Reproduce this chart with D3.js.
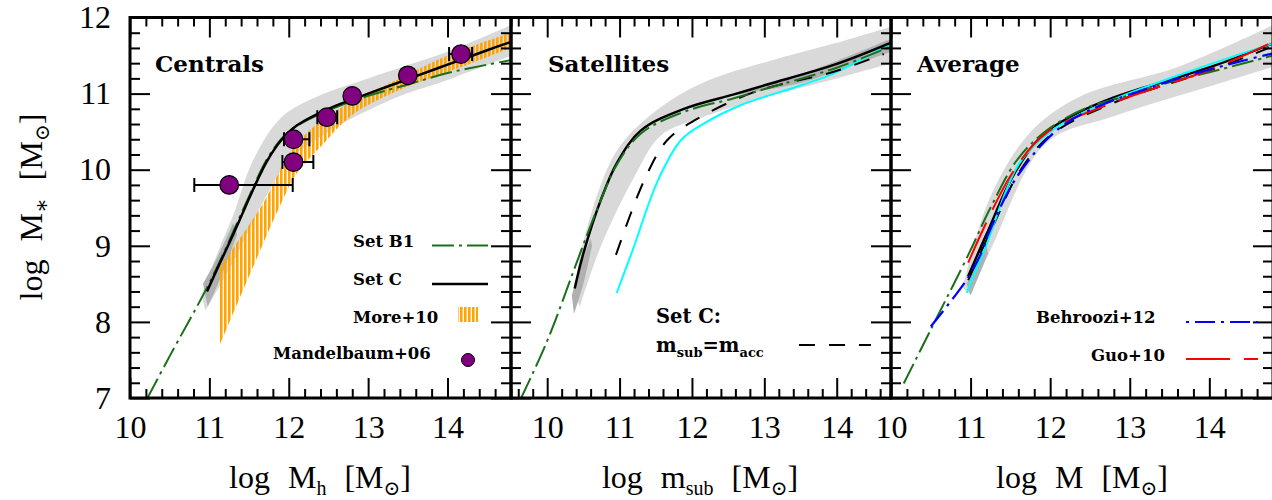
<!DOCTYPE html>
<html>
<head>
<meta charset="utf-8">
<script src="https://cdn.jsdelivr.net/npm/d3@7"></script>
<style>
body { margin: 0; background: #fff; }
svg { display: block; }
.tick text { font-family: "Liberation Serif", "DejaVu Serif", serif; font-size: 32px; fill: #000; }
.tick line { stroke-width: 2; }
.lab { font-family: "DejaVu Serif", serif; font-weight: bold; fill: #000; }
.ttl { font-family: "Liberation Serif", "DejaVu Serif", serif; font-size: 32px; fill: #000; word-spacing: 10px; }
</style>
</head>
<body>
<svg id="chart" width="1272" height="500"></svg>
<script>
// ---- data (log masses) ----

// Centrals panel
var cenC_x  = [10.97, 11.1, 11.3, 11.5, 11.6, 11.73, 11.9, 12.1, 12.5, 13.0, 13.5, 14.0, 14.5, 14.8];
var cenC_y  = [8.40, 8.70, 9.15, 9.62, 9.85, 10.12, 10.38, 10.58, 10.80, 11.00, 11.19, 11.38, 11.57, 11.68];
var cenB1_x = [10.22, 10.5, 10.97, 11.2, 11.5, 11.75, 12.0, 12.5, 13.0, 13.5, 14.0, 14.5, 14.8];
var cenB1_y = [7.0, 7.55, 8.45, 8.95, 9.65, 10.18, 10.5, 10.78, 10.97, 11.12, 11.27, 11.38, 11.44];
var cenBandHi_x = [10.9, 11.1, 11.3, 11.55, 11.9, 12.4, 13.0, 13.4, 14.0, 14.8];
var cenBandHi_y = [8.35, 8.9, 9.4, 10.12, 10.68, 10.98, 11.2, 11.34, 11.55, 11.9];
var cenBandLo_x = [10.95, 11.2, 11.45, 11.7, 12.0, 12.5, 13.0, 13.4, 14.0, 14.8];
var cenBandLo_y = [8.15, 8.6, 9.1, 9.62, 10.12, 10.5, 10.78, 10.97, 11.18, 11.5];
var cenDarkHi_x = [10.92, 11.1, 11.3];
var cenDarkHi_y = [8.5, 8.85, 9.3];
var cenDarkLo_x = [10.98, 11.15, 11.35];
var cenDarkLo_y = [8.2, 8.6, 9.15];
var moreLo_x = [11.12, 11.5, 11.9, 12.1, 12.4, 12.8, 13.4, 14.0, 14.8];
var moreLo_y = [7.67, 8.6, 9.55, 9.95, 10.3, 10.72, 11.05, 11.28, 11.6];
var moreHi_x = [11.12, 11.3, 11.7, 12.0, 12.3, 12.8, 13.4, 14.0, 14.8];
var moreHi_y = [8.71, 8.97, 9.6, 10.2, 10.55, 10.9, 11.2, 11.5, 11.8];
var mand_x  = [11.25, 12.06, 12.06, 12.48, 12.80, 13.50, 14.17];
var mand_y  = [9.80, 10.10, 10.40, 10.69, 10.97, 11.24, 11.52];
var mand_lo = [10.81, 11.92, 11.94, 12.36, 12.74, 13.44, 14.02];
var mand_hi = [12.05, 12.31, 12.26, 12.61, 12.86, 13.56, 14.31];

// Satellites panel
var satB1_x = [9.64, 10.0, 10.47, 10.74, 10.97, 11.3, 11.89, 12.58, 13.04, 13.97, 14.75];
var satB1_y = [7.0, 7.75, 8.94, 9.6, 10.08, 10.48, 10.76, 10.94, 11.07, 11.33, 11.62];
var satC_x  = [10.38, 10.5, 10.74, 10.97, 11.3, 11.89, 12.58, 13.04, 13.97, 14.75];
var satC_y  = [8.44, 8.9, 9.6, 10.1, 10.52, 10.8, 10.99, 11.12, 11.38, 11.67];
var satCyan_x = [10.96, 11.18, 11.53, 11.85, 12.17, 12.68, 13.51, 13.97, 14.75];
var satCyan_y = [8.38, 8.94, 9.86, 10.39, 10.61, 10.85, 11.11, 11.27, 11.66];
var satAcc_x = [10.95, 11.34, 11.66, 12.04, 12.86, 13.97, 14.65];
var satAcc_y = [8.88, 9.86, 10.39, 10.65, 11.02, 11.29, 11.52];
var satBandHi_x = [10.38, 10.47, 10.93, 11.43, 12.12, 13.04, 13.97, 14.75];
var satBandHi_y = [8.4, 8.94, 10.2, 10.72, 11.13, 11.42, 11.66, 11.88];
var satBandLo_x = [10.45, 10.74, 11.2, 11.57, 12.12, 13.0, 14.0, 14.75];
var satBandLo_y = [8.2, 8.99, 9.9, 10.45, 10.68, 10.95, 11.2, 11.4];
var satDarkHi_x = [12.6, 13.5, 14.0, 14.75];
var satDarkHi_y = [11.0, 11.26, 11.43, 11.72];
var satDarkLo_x = [12.6, 13.5, 14.0, 14.75];
var satDarkLo_y = [10.98, 11.14, 11.3, 11.55];
var satDark2Hi_x = [10.34, 10.45, 10.6];
var satDark2Hi_y = [8.35, 8.7, 9.1];
var satDark2Lo_x = [10.37, 10.5, 10.62];
var satDark2Lo_y = [8.1, 8.5, 9.0];

// Average panel
var avgB1_x = [10.16, 10.5, 10.98, 11.25, 11.6, 12.0, 12.5, 13.0, 13.5, 14.0, 14.8];
var avgB1_y = [7.19, 7.9, 8.9, 9.5, 10.15, 10.55, 10.83, 10.98, 11.15, 11.28, 11.5];
var avgBeh_x = [10.5, 10.96, 11.15, 11.23, 11.61, 12.2, 13.43, 14.8];
var avgBeh_y = [7.94, 8.57, 8.94, 9.17, 9.95, 10.61, 11.14, 11.53];
var avgCyan_x = [10.95, 11.19, 11.61, 12.03, 12.79, 14.05, 14.8];
var avgCyan_y = [8.38, 8.99, 10.08, 10.52, 10.92, 11.4, 11.66];
var avgGuo_x = [10.97, 11.52, 11.95, 12.79, 14.05, 14.8];
var avgGuo_y = [8.78, 9.95, 10.48, 10.88, 11.33, 11.68];
var avgC_x = [10.97, 11.2, 11.55, 11.9, 12.3, 12.8, 13.5, 14.1, 14.8];
var avgC_y = [8.6, 9.15, 9.95, 10.45, 10.72, 10.95, 11.18, 11.38, 11.66];
var avgAcc_x = [10.97, 11.3, 11.6, 12.0, 12.8, 14.0, 14.75];
var avgAcc_y = [8.55, 9.3, 9.95, 10.45, 10.88, 11.3, 11.6];
var avgBandHi_x = [10.9, 11.23, 11.74, 12.37, 13.63, 14.8];
var avgBandHi_y = [8.45, 9.6, 10.48, 10.96, 11.36, 11.9];
var avgBandLo_x = [11.0, 11.27, 11.95, 12.79, 14.05, 14.8];
var avgBandLo_y = [8.35, 8.99, 10.35, 10.7, 11.11, 11.35];
var avgDarkHi_x = [10.95, 11.2];
var avgDarkHi_y = [8.5, 9.0];
var avgDarkLo_x = [11.0, 11.22];
var avgDarkLo_y = [8.35, 8.9];

// tick labels
var yTicks = [7, 8, 9, 10, 11, 12];
var xTicks = [10, 11, 12, 13, 14];
var panelNames = ["Centrals", "Satellites", "Average"];

// ---- layout ----
var svg = d3.select("#chart");
var top_ = 17.5, bottom = 398;
var y = d3.scaleLinear().domain([7, 12]).range([bottom, top_]);

var panels = [
    {x0: 130, x1: 511, dom: [10, 14.8]},
    {x0: 511, x1: 891, dom: [9.5, 14.75]},
    {x0: 891, x1: 1273, dom: [10, 14.8]}
];
panels.forEach(function (p) {
    p.x = d3.scaleLinear().domain(p.dom).range([p.x0, p.x1]);
});

var LIGHT = "#d9d9d9", DARK = "#b0b0b0", GREEN = "#1a701a";

function zip(a, b) { return a.map(function (v, i) { return [v, b[i]]; }); }

function lineFor(xs) {
    return d3.line()
        .x(function (d) { return xs(d[0]); })
        .y(function (d) { return y(d[1]); })
        .curve(d3.curveCatmullRom.alpha(0.5));
}
function bandPath(xs, hi, lo) {
    var l = lineFor(xs);
    var a = l(hi);
    var b = l(lo.slice().reverse());
    return a + "L" + b.slice(1) + "Z";
}

var defs = svg.append("defs");
var pat = defs.append("pattern")
    .attr("id", "hatch")
    .attr("patternUnits", "userSpaceOnUse")
    .attr("width", 4).attr("height", 10);
pat.append("rect").attr("x", 0).attr("y", 0).attr("width", 2.6).attr("height", 10).attr("fill", "#ffa500");

panels.forEach(function (p, i) {
    defs.append("clipPath").attr("id", "clip" + i)
        .append("rect")
        .attr("x", p.x0).attr("y", top_)
        .attr("width", p.x1 - p.x0).attr("height", bottom - top_);
});

function plotLayer(i) {
    return svg.append("g").attr("clip-path", "url(#clip" + i + ")");
}

function drawBand(g, xs, hx, hy, lx, ly, color) {
    g.append("path").attr("d", bandPath(xs, zip(hx, hy), zip(lx, ly))).attr("fill", color);
}
function drawLine(g, xs, xa, ya, color, width, dash) {
    g.append("path")
        .attr("d", lineFor(xs)(zip(xa, ya)))
        .attr("fill", "none")
        .attr("stroke", color)
        .attr("stroke-width", width)
        .attr("stroke-dasharray", dash || null);
}

var DASH_B1 = "22,5,3,5", DASH_ACC = "16,14", DASH_BEH = "20,6,3,6", DASH_GUO = "44,14";

// ---- Centrals ----
var p0 = panels[0], g0 = plotLayer(0);
drawBand(g0, p0.x, cenBandHi_x, cenBandHi_y, cenBandLo_x, cenBandLo_y, LIGHT);
drawBand(g0, p0.x, cenDarkHi_x, cenDarkHi_y, cenDarkLo_x, cenDarkLo_y, DARK);
drawBand(g0, p0.x, moreHi_x, moreHi_y, moreLo_x, moreLo_y, "url(#hatch)");
drawLine(g0, p0.x, cenB1_x, cenB1_y, GREEN, 2, DASH_B1);
drawLine(g0, p0.x, cenC_x, cenC_y, "#000", 2.5);

var eb = g0.selectAll(".eb").data(mand_x.map(function (v, i) {
    return {x: v, y: mand_y[i], lo: mand_lo[i], hi: mand_hi[i]};
})).enter().append("g");
eb.append("line")
    .attr("x1", function (d) { return p0.x(d.lo); })
    .attr("x2", function (d) { return p0.x(d.hi); })
    .attr("y1", function (d) { return y(d.y); })
    .attr("y2", function (d) { return y(d.y); })
    .attr("stroke", "#000").attr("stroke-width", 2);
["lo", "hi"].forEach(function (k) {
    eb.append("line")
        .attr("x1", function (d) { return p0.x(d[k]); })
        .attr("x2", function (d) { return p0.x(d[k]); })
        .attr("y1", function (d) { return y(d.y) - 7; })
        .attr("y2", function (d) { return y(d.y) + 7; })
        .attr("stroke", "#000").attr("stroke-width", 2);
});
eb.append("circle")
    .attr("cx", function (d) { return p0.x(d.x); })
    .attr("cy", function (d) { return y(d.y); })
    .attr("r", 9.3)
    .attr("fill", "#800080").attr("stroke", "#000").attr("stroke-width", 1.2);

// ---- Satellites ----
var p1 = panels[1], g1 = plotLayer(1);
drawBand(g1, p1.x, satBandHi_x, satBandHi_y, satBandLo_x, satBandLo_y, LIGHT);
drawBand(g1, p1.x, satDarkHi_x, satDarkHi_y, satDarkLo_x, satDarkLo_y, DARK);
drawBand(g1, p1.x, satDark2Hi_x, satDark2Hi_y, satDark2Lo_x, satDark2Lo_y, DARK);
drawLine(g1, p1.x, satCyan_x, satCyan_y, "#00ffff", 2);
drawLine(g1, p1.x, satAcc_x, satAcc_y, "#000", 2, DASH_ACC);
drawLine(g1, p1.x, satC_x, satC_y, "#000", 2.5);
drawLine(g1, p1.x, satB1_x, satB1_y, GREEN, 2, DASH_B1);

// ---- Average ----
var p2 = panels[2], g2 = plotLayer(2);
drawBand(g2, p2.x, avgBandHi_x, avgBandHi_y, avgBandLo_x, avgBandLo_y, LIGHT);
drawBand(g2, p2.x, avgDarkHi_x, avgDarkHi_y, avgDarkLo_x, avgDarkLo_y, DARK);
drawLine(g2, p2.x, avgC_x, avgC_y, "#000", 2.5);
drawLine(g2, p2.x, avgAcc_x, avgAcc_y, "#000", 2, DASH_ACC);
drawLine(g2, p2.x, avgCyan_x, avgCyan_y, "#00ffff", 2);
drawLine(g2, p2.x, avgB1_x, avgB1_y, GREEN, 2, DASH_B1);
drawLine(g2, p2.x, avgGuo_x, avgGuo_y, "#ff0000", 2, DASH_GUO);
drawLine(g2, p2.x, avgBeh_x, avgBeh_y, "#0000ff", 2.2, DASH_BEH);

// ---- frames and ticks ----
function minorOf(dom) {
    return d3.range(Math.ceil(dom[0] * 5 - 1e-6), Math.floor(dom[1] * 5 + 1e-6) + 1)
        .map(function (k) { return k / 5; })
        .filter(function (v) { return Math.abs(v - Math.round(v)) > 1e-6; });
}
var yMinor = minorOf([7, 12]);

function clean(g) { g.select(".domain").remove(); return g; }

panels.forEach(function (p, i) {
    var xMaj = xTicks.filter(function (v) { return v >= p.dom[0] && v <= p.dom[1]; });
    var xMin = minorOf(p.dom);

    clean(svg.append("g").attr("transform", "translate(0," + bottom + ")")
        .call(d3.axisBottom(p.x).tickValues(xMaj).tickSize(-20).tickPadding(17).tickFormat(d3.format("d"))));
    clean(svg.append("g").attr("transform", "translate(0," + bottom + ")")
        .call(d3.axisBottom(p.x).tickValues(xMin).tickSize(-9).tickFormat("")));
    clean(svg.append("g").attr("transform", "translate(0," + top_ + ")")
        .call(d3.axisTop(p.x).tickValues(xMaj).tickSize(-20).tickFormat("")));
    clean(svg.append("g").attr("transform", "translate(0," + top_ + ")")
        .call(d3.axisTop(p.x).tickValues(xMin).tickSize(-9).tickFormat("")));

    var left = d3.axisLeft(y).tickValues(yTicks).tickSize(-20).tickPadding(19);
    if (i > 0) left.tickFormat("");
    else left.tickFormat(d3.format("d"));
    clean(svg.append("g").attr("transform", "translate(" + p.x0 + ",0)").call(left));
    clean(svg.append("g").attr("transform", "translate(" + p.x0 + ",0)")
        .call(d3.axisLeft(y).tickValues(yMinor).tickSize(-10).tickFormat("")));
    clean(svg.append("g").attr("transform", "translate(" + p.x1 + ",0)")
        .call(d3.axisRight(y).tickValues(yTicks).tickSize(-20).tickFormat("")));
    clean(svg.append("g").attr("transform", "translate(" + p.x1 + ",0)")
        .call(d3.axisRight(y).tickValues(yMinor).tickSize(-10).tickFormat("")));

    svg.append("rect")
        .attr("x", p.x0).attr("y", top_)
        .attr("width", p.x1 - p.x0).attr("height", bottom - top_)
        .attr("fill", "none").attr("stroke", "#000").attr("stroke-width", 3);

    svg.append("text").attr("class", "lab")
        .attr("x", p.x0 + [25, 37, 26][i]).attr("y", 72)
        .attr("font-size", 23)
        .text(panelNames[i]);
});

// ---- legends ----
function legText(x, yb, txt, size) {
    return svg.append("text").attr("class", "lab").attr("font-size", size || 16.5)
        .attr("x", x).attr("y", yb).text(txt);
}
function legLine(x1, x2, yy, color, width, dash) {
    svg.append("line").attr("x1", x1).attr("x2", x2).attr("y1", yy).attr("y2", yy)
        .attr("stroke", color).attr("stroke-width", width).attr("stroke-dasharray", dash || null);
}
legText(353, 247, "Set B1");
legLine(432, 488, 245.5, GREEN, 2, DASH_B1);
legText(353, 285, "Set C");
legLine(432, 488, 284, "#000", 2.5);
legText(353, 323, "More+10");
svg.append("rect").attr("x", 458).attr("y", 307).attr("width", 20).attr("height", 15).attr("fill", "url(#hatch)");
legText(273, 359, "Mandelbaum+06");
svg.append("circle").attr("cx", 468).attr("cy", 360).attr("r", 6.5)
    .attr("fill", "#800080").attr("stroke", "#000").attr("stroke-width", 1);

legText(656, 323, "Set C:", 19.5);
var t2 = legText(656, 352, "m", 19.5);
t2.append("tspan").attr("dy", 5).attr("font-size", 13).text("sub");
t2.append("tspan").attr("dy", -5).text("=m");
t2.append("tspan").attr("dy", 5).attr("font-size", 13).text("acc");
legLine(799, 871, 345, "#000", 2, DASH_ACC);

legText(1036, 323, "Behroozi+12");
legLine(1186, 1258, 322, "#0000ff", 2.2, "3,6,20,6");
legText(1091, 361, "Guo+10");
legLine(1186, 1258, 359, "#ff0000", 2, DASH_GUO);

// ---- axis titles ----
function massTitle(t, sub, subSize) {
    t.append("tspan").text("log M");
    if (sub) t.append("tspan").attr("dy", 7).attr("font-size", subSize).text(sub);
    t.append("tspan").attr("dy", sub ? -7 : 0).text(" [M");
    t.append("tspan").attr("dy", 7).attr("font-size", 20).text("\u2299");
    t.append("tspan").attr("dy", -7).text("]");
}
var tx0 = svg.append("text").attr("class", "ttl").attr("text-anchor", "middle")
    .attr("x", 320).attr("y", 488);
massTitle(tx0, "h", 20);

var tx1 = svg.append("text").attr("class", "ttl").attr("text-anchor", "middle")
    .attr("x", 700).attr("y", 488);
tx1.append("tspan").text("log m");
tx1.append("tspan").attr("dy", 7).attr("font-size", 20).text("sub");
tx1.append("tspan").attr("dy", -7).text(" [M");
tx1.append("tspan").attr("dy", 7).attr("font-size", 20).text("\u2299");
tx1.append("tspan").attr("dy", -7).text("]");

var tx2 = svg.append("text").attr("class", "ttl").attr("text-anchor", "middle")
    .attr("x", 1082).attr("y", 488);
massTitle(tx2, null, 20);

var ty = svg.append("text").attr("class", "ttl").attr("text-anchor", "middle")
    .attr("transform", "translate(42,207) rotate(-90)");
massTitle(ty, "\u2217", 22);
</script>
</body>
</html>
